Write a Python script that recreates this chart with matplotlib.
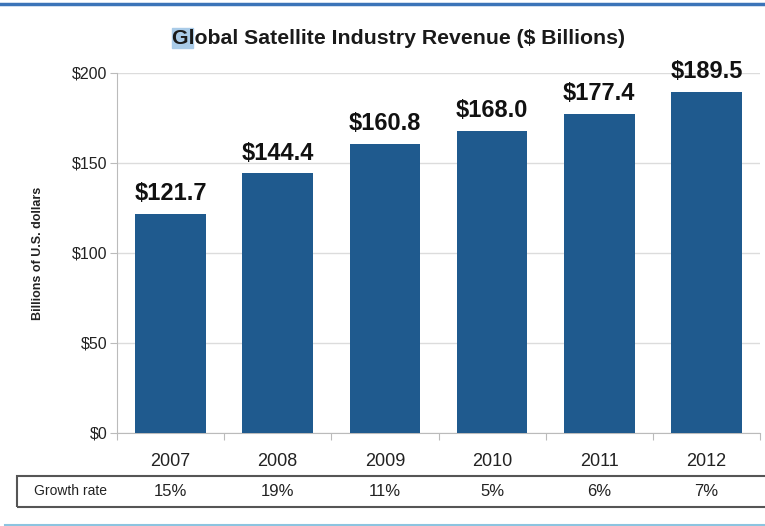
import matplotlib
matplotlib.use("Agg")
import matplotlib.pyplot as plt
from matplotlib.patches import Rectangle
from matplotlib.lines import Line2D

years = ["2007", "2008", "2009", "2010", "2011", "2012"]
revenue = [121.7, 144.4, 160.8, 168.0, 177.4, 189.5]
growth = ["15%", "19%", "11%", "5%", "6%", "7%"]
yticks = [0, 50, 100, 150, 200]

FONT = ["Liberation Sans Narrow", "Liberation Sans", "DejaVu Sans"]
plt.rcParams["font.family"] = FONT

W, H = 765, 526
fig = plt.figure(figsize=(W / 100, H / 100), dpi=100)

def fx(px):
    return px / W

def fy(py):
    return 1 - py / H

ax = fig.add_axes([fx(117), fy(433), fx(760) - fx(117), fy(73) - fy(433)])
x = list(range(len(years)))
bar_color = "#1f5a8e"
ax.bar(x, revenue, width=0.66, color=bar_color, zorder=3)
ax.set_xlim(-0.5, len(years) - 0.5)
ax.set_ylim(0, 200)
ax.set_yticks(yticks)
ax.set_yticklabels([f"${v}" for v in yticks], fontsize=11.5, color="#222222")
ax.grid(axis="y", color="#dcdcdc", linewidth=1, zorder=0)
for s in ["top", "right"]:
    ax.spines[s].set_visible(False)
ax.spines["left"].set_color("#bbbbbb")
ax.spines["bottom"].set_color("#bbbbbb")
ax.tick_params(axis="y", length=5, color="#bbbbbb", pad=2)
# x ticks at category boundaries, labels at centers
ax.set_xticks([i - 0.5 for i in range(len(years) + 1)])
ax.set_xticklabels([])
ax.tick_params(axis="x", length=5, color="#bbbbbb")
for i, yr in enumerate(years):
    ax.annotate(yr, (i, 0), xycoords="data", xytext=(0, -29), textcoords="offset pixels",
                ha="center", va="center", fontsize=13, color="#222222")
for i, v in enumerate(revenue):
    ax.annotate(f"${v:.1f}", (i, v), xytext=(0, 20), textcoords="offset pixels",
                ha="center", va="center", fontsize=17, fontweight="bold", color="#111111")

ax.set_ylabel("Billions of U.S. dollars", fontsize=9, fontweight="bold", color="#222222", labelpad=20)

# title, with the highlighted first letters
fig.patches.append(Rectangle((fx(172), fy(48)), fx(21), fy(28) - fy(48), transform=fig.transFigure,
                             color="#a9cbe8", zorder=0))
fig.text(fx(398), fy(38), "Global Satellite Industry Revenue ($ Billions)", ha="center", va="center",
         fontsize=15.3, fontweight="bold", color="#1a1a1a")

# growth rate table
fig.patches.append(Rectangle((fx(17), fy(507)), fx(770) - fx(17), fy(476) - fy(507),
                             transform=fig.transFigure, fill=False, edgecolor="#555555", linewidth=1.5))
fig.text(fx(70), fy(491), "Growth rate", ha="center", va="center", fontsize=10, color="#222222")
for i, g in enumerate(growth):
    xd = ax.transData.transform((i, 0))[0] / fig.bbox.width
    fig.text(xd, fy(491), g, ha="center", va="center", fontsize=12, color="#222222")

# decorative rules
fig.lines.append(Line2D([0, 1], [fy(4), fy(4)], transform=fig.transFigure, color="#3b74b8", linewidth=2.5))
fig.lines.append(Line2D([fx(5), 1], [fy(525), fy(525)], transform=fig.transFigure, color="#8cc4e0", linewidth=1.5))

fig.savefig("out.png", dpi=100)
